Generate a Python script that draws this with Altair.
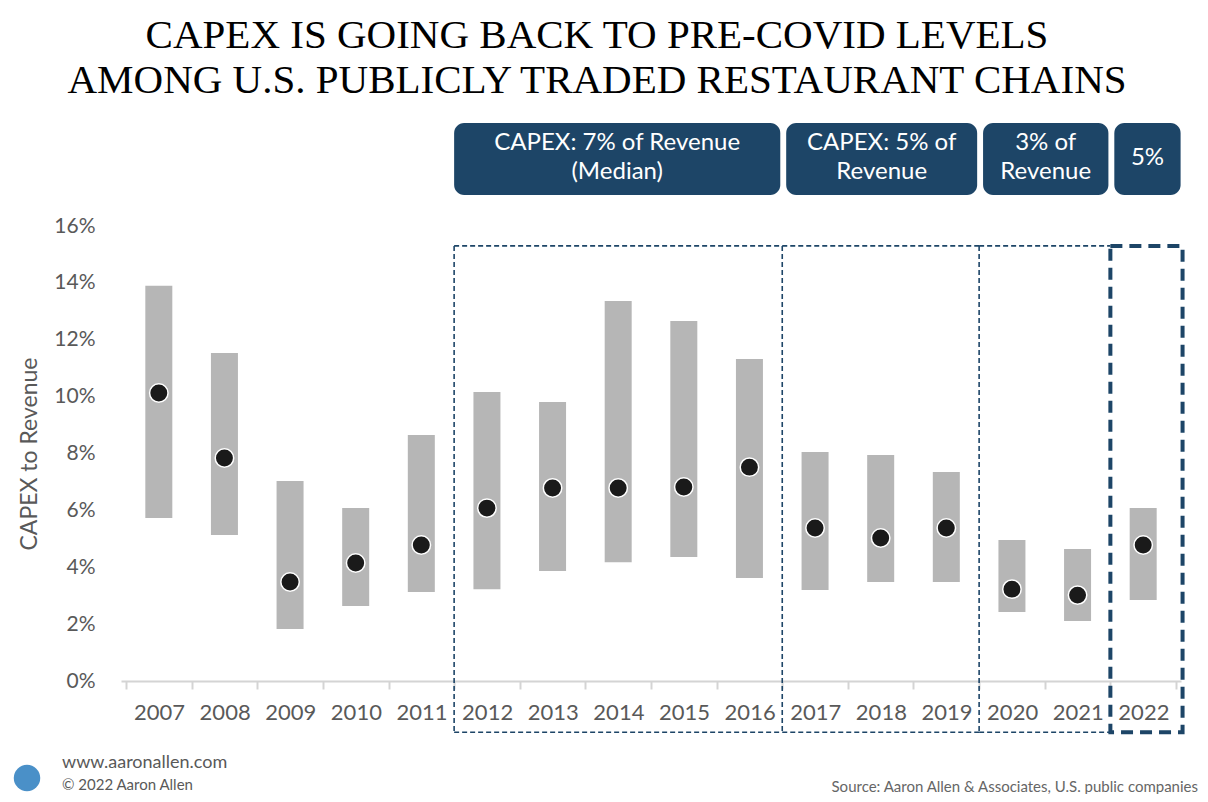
import altair as alt
import pandas as pd

# ---- data ----
years = list(range(2007, 2023))
low = [5.73, 5.13, 1.83, 2.64, 3.13, 3.23, 3.87, 4.18, 4.36, 3.62, 3.20, 3.48, 3.48, 2.43, 2.11, 2.85]
high = [13.90, 11.53, 7.03, 6.08, 8.65, 10.16, 9.81, 13.36, 12.66, 11.32, 8.05, 7.95, 7.35, 4.96, 4.64, 6.08]
median = [10.13, 7.84, 3.48, 4.15, 4.78, 6.08, 6.79, 6.79, 6.82, 7.52, 5.38, 5.03, 5.38, 3.23, 3.02, 4.78]

group_start = [2012, 2017, 2020, 2022]
group_end = [2016, 2019, 2021, 2022]
group_labels = ["CAPEX: 7% of Revenue\n(Median)", "CAPEX: 5% of\nRevenue", "3% of\nRevenue", "5%"]

title_lines = ["CAPEX IS GOING BACK TO PRE-COVID LEVELS",
               "AMONG U.S. PUBLICLY TRADED RESTAURANT CHAINS"]
footer_site = "www.aaronallen.com"
footer_copy = "\u00a9 2022 Aaron Allen"
footer_source = "Source: Aaron Allen & Associates, U.S. public companies"

NAVY = "#1d4567"
GREY_TXT = "#595959"
FONT = "Lato"

df = pd.DataFrame({"year": years, "low": low, "high": high, "median": median})
groups = pd.DataFrame({
    "start": [s - 0.5 for s in group_start],
    "end": [e + 0.5 for e in group_end],
    "label": group_labels,
    "last": [False, False, False, True],
})

xs = alt.Scale(domain=[2006.5, 2022.5], nice=False, zero=False)
ys = alt.Scale(domain=[0, 16], nice=False, zero=False)

tick_vals = [y - 0.5 for y in years] + [years[-1] + 0.5]

x_axis = alt.Axis(
    values=tick_vals,
    labelExpr="datum.value > 2022 ? '' : toString(datum.value + 0.5)",
    labelOffset=33,
    labelFlush=False,
    labelOverlap=False,
    labelBound=False,
    grid=False,
    title=None,
    domainColor="#d4d4d4",
    domainWidth=2,
    tickColor="#d4d4d4",
    tickWidth=2,
    tickSize=8,
    labelFont=FONT,
    labelFontSize=22,
    labelColor=GREY_TXT,
    labelPadding=13,
)
y_axis = alt.Axis(
    values=list(range(0, 17, 2)),
    labelExpr="datum.value + '%'",
    grid=False,
    ticks=False,
    domain=False,
    title="CAPEX to Revenue",
    titleFont=FONT,
    titleFontSize=23,
    titleFontWeight="normal",
    titleColor=GREY_TXT,
    titlePadding=12,
    labelFont=FONT,
    labelFontSize=21,
    labelColor=GREY_TXT,
    labelPadding=26,
)


def X(f):
    return alt.X(f, scale=xs, axis=x_axis)


def Y(f):
    return alt.Y(f, scale=ys, axis=y_axis)


bars = alt.Chart(df).mark_bar(width=27, color="#b6b6b6").encode(
    x=X("year:Q"), y=Y("low:Q"), y2="high:Q",
)

dots = alt.Chart(df).mark_point(
    shape="circle", filled=True, size=340, fill="#1a1a1a", stroke="white",
    strokeWidth=1.5, opacity=1,
).encode(x=X("year:Q"), y=Y("median:Q"))

# thin dashed frames: shared horizontals + verticals at each boundary
thin = alt.Chart(groups).transform_filter("!datum.last")
h_lines = thin.transform_calculate(yv="[15.3, -1.8]").transform_flatten(["yv"]).mark_rule(
    color=NAVY, strokeWidth=1.6, strokeDash=[5, 3]
).encode(x=X("start:Q"), x2="end:Q", y=Y("yv:Q"))

v_lines = thin.transform_calculate(top="15.3", bot="-1.8").mark_rule(
    color=NAVY, strokeWidth=1.6, strokeDash=[5, 3]
).encode(x=X("start:Q"), y=Y("top:Q"), y2="bot:Q")

thick_box = alt.Chart(groups).transform_filter("datum.last").transform_calculate(
    end2="datum.end + 0.1", top="15.3", bot="-1.8"
).mark_rect(
    fill="transparent", stroke=NAVY, strokeWidth=4, strokeDash=[12, 7]
).encode(x=X("start:Q"), x2="end2:Q", y=Y("top:Q"), y2="bot:Q")

head_base = alt.Chart(groups).transform_calculate(
    hx1="datum.start + (datum.start < 2012 ? 0 : 0.06)",
    hx2="datum.end - 0.03 + (datum.last ? 0.1 : 0)",
    hy1="19.62",
    hy2="17.09",
).transform_calculate(
    hmid="(datum.hx1 + datum.hx2) / 2",
    hym="indexof(datum.label, '\\n') >= 0 ? 18.92 : 18.39",
)

head_rects = head_base.mark_rect(color=NAVY, cornerRadius=10).encode(
    x=X("hx1:Q"), x2="hx2:Q", y=Y("hy1:Q"), y2="hy2:Q",
)

head_text = head_base.mark_text(
    color="white", font=FONT, fontSize=24, lineBreak="\n", lineHeight=29,
    align="center", baseline="middle",
).encode(x=X("hmid:Q"), y=Y("hym:Q"), text="label:N")

title1 = alt.Chart(pd.DataFrame({"t": [title_lines[0]]})).mark_text(
    font="Liberation Serif", fontSize=41, color="black", align="center", baseline="alphabetic"
).encode(x=alt.value(476), y=alt.value(-178), text="t:N")

title2 = alt.Chart(pd.DataFrame({"t": [title_lines[1]]})).mark_text(
    font="Liberation Serif", fontSize=41, color="black", align="center", baseline="alphabetic"
).encode(x=alt.value(476), y=alt.value(-133), text="t:N")

site = alt.Chart(pd.DataFrame({"t": [footer_site]})).mark_text(
    font=FONT, fontSize=18, color=GREY_TXT, align="left", baseline="middle"
).encode(x=alt.value(-59), y=alt.value(537), text="t:N")

copy_ = alt.Chart(pd.DataFrame({"t": [footer_copy]})).mark_text(
    font=FONT, fontSize=15, color=GREY_TXT, align="left", baseline="middle"
).encode(x=alt.value(-59), y=alt.value(559), text="t:N")

source = alt.Chart(pd.DataFrame({"t": [footer_source]})).mark_text(
    font=FONT, fontSize=15, color="#666666", align="right", baseline="middle"
).encode(x=alt.value(1077), y=alt.value(561), text="t:N")

logo = alt.Chart(pd.DataFrame({"t": ["logo"]})).mark_circle(
    color="#4a90c8", opacity=1, size=700
).encode(x=alt.value(-94), y=alt.value(552))

chart = alt.layer(
    bars, dots, h_lines, v_lines, thick_box, head_rects, head_text,
    title1, title2, site, copy_, source, logo,
).properties(
    width=1060,
    height=455,
    autosize=alt.AutoSizeParams(type="none"),
    padding={"left": 113, "top": 218, "right": 19, "bottom": 113},
    background="white",
).configure_view(stroke=None)

chart.save("out.html", embed_options={"renderer": "svg", "actions": False})
